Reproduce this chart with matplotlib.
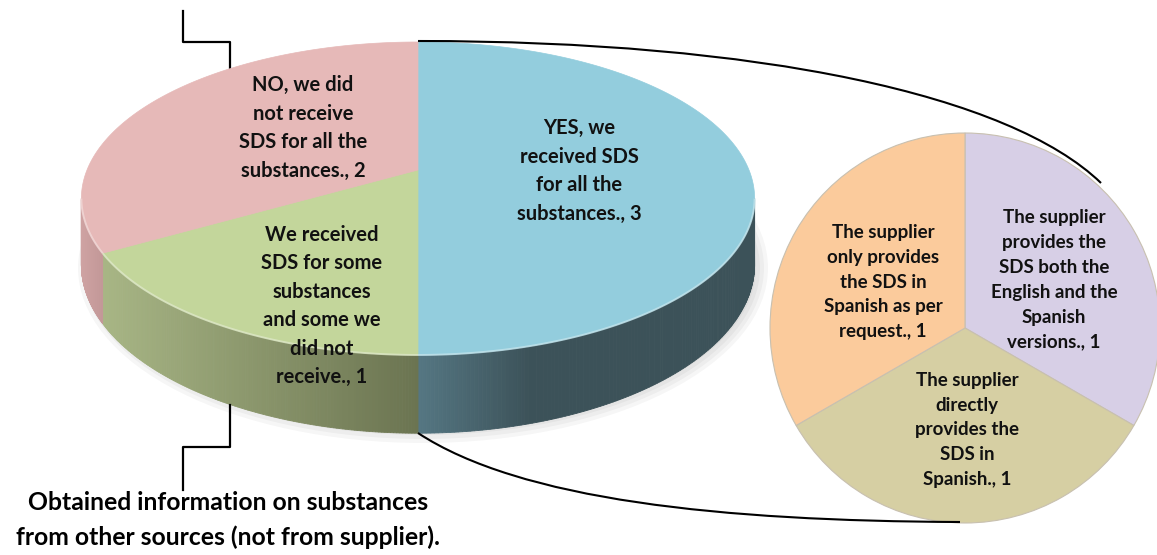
import numpy as np
import matplotlib
matplotlib.use("Agg")
import matplotlib.pyplot as plt
from matplotlib.patches import Polygon, Wedge, PathPatch, Ellipse
from matplotlib.path import Path
from matplotlib.colors import to_rgb

# ---------------- data (clockwise from 12 o'clock) ----------------
main_labels = ["YES, we\nreceived SDS\nfor all the\nsubstances., 3",
               "We received\nSDS for some\nsubstances\nand some we\ndid not\nreceive., 1",
               "NO, we did\nnot receive\nSDS for all the\nsubstances., 2"]
main_values = [3, 1, 2]
main_top_colors = ["#93CDDD", "#C3D69B", "#E6B9B8"]
main_side_left = ["#557783", "#A8B685", "#CFA3A3"]
main_side_right = ["#3C5259", "#6B7451", "#C39898"]

sub_labels = ["The supplier\nprovides the\nSDS both the\nEnglish and the\nSpanish\nversions., 1",
              "The supplier\ndirectly\nprovides the\nSDS in\nSpanish., 1",
              "The supplier\nonly provides\nthe SDS in\nSpanish as per\nrequest., 1"]
sub_values = [1, 1, 1]
sub_colors = ["#D7CFE6", "#D6CFA3", "#FBCB9C"]

bottom_note = "Obtained information on substances\nfrom other sources (not from supplier)."

FONT = ["Lato", "DejaVu Sans"]

W, H = 1157, 555
fig = plt.figure(figsize=(W / 100, H / 100), dpi=100)
ax = fig.add_axes([0, 0, 1, 1])
ax.set_xlim(0, W)
ax.set_ylim(H, 0)
ax.axis("off")

# ---------------- main 3-D pie (simple perspective) ----------------
cx, yc, Rx, A, D, k = 418, 170, 331, 151.3, 64, 0.182


def proj(theta_deg, bottom=False):
    t = np.radians(theta_deg)
    u, v = np.cos(t), np.sin(t)
    s = 1.0 / (1.0 + k * v)
    y = yc - A * v * s + (D * s if bottom else 0.0)
    return cx + Rx * u * s, y


total = sum(main_values)
bounds = []
a = 90.0
for v in main_values:
    span = 360.0 * v / total
    bounds.append((a - span, a))
    a -= span

# soft shadow under the pie
for j in range(4):
    ax.add_patch(Ellipse((cx + 5, 268), 690 - 8 * j, 350 - 8 * j,
                         facecolor="#000000", alpha=0.035, edgecolor="none", zorder=0))

sil_lo = 180 + np.degrees(np.arcsin(k))
sil_hi = 360 - np.degrees(np.arcsin(k))

# side walls (front, visible part)
for (t1, t2), cl, cr in zip(bounds, main_side_left, main_side_right):
    lo, hi = t1 % 360, t2 % 360
    if hi <= lo:
        hi += 360
    vis_lo, vis_hi = max(lo, sil_lo), min(hi, sil_hi)
    if vis_hi <= vis_lo:
        continue
    ts = np.linspace(vis_lo, vis_hi, 140)
    xs_all = [proj(t)[0] for t in ts]
    xmin, xmax = min(xs_all), max(xs_all)
    c_l, c_r = np.array(to_rgb(cl)), np.array(to_rgb(cr))
    fast = (cl == main_side_left[0])
    for i in range(len(ts) - 1):
        p1, p2 = proj(ts[i]), proj(ts[i + 1])
        q1, q2 = proj(ts[i], True), proj(ts[i + 1], True)
        xm = 0.5 * (p1[0] + p2[0])
        f = (xm - xmin) / max(xmax - xmin, 1)
        if fast:
            f = min(1.0, f * 3.0)
        col = c_l * (1 - f) + c_r * f
        ax.add_patch(Polygon([p1, p2, q2, q1], closed=True, facecolor=col,
                             edgecolor=col, lw=0.6, zorder=1))

# top faces
for (t1, t2), col in zip(bounds, main_top_colors):
    ts = np.linspace(t1, t2, 240)
    pts = [(cx, yc)] + [proj(t) for t in ts]
    ax.add_patch(Polygon(pts, closed=True, facecolor=col, edgecolor=col, lw=0.5, zorder=2))
    # light bevel along the front rim
    lo, hi = t1 % 360, t2 % 360
    if hi <= lo:
        hi += 360
    vlo, vhi = max(lo, sil_lo), min(hi, sil_hi)
    if vhi > vlo:
        rim = np.array([proj(t) for t in np.linspace(vlo, vhi, 120)])
        light = 0.55 * np.array(to_rgb(col)) + 0.45
        ax.plot(rim[:, 0], rim[:, 1], color=light, lw=1.4, alpha=0.8, zorder=2.5,
                solid_capstyle="butt")

main_pos = [(579, 171), (322, 306), (303, 128)]
for lab, (x, y) in zip(main_labels, main_pos):
    ax.text(x, y, lab, ha="center", va="center", fontsize=14.5, fontweight="bold",
            family=FONT, linespacing=1.53, color="#111111", zorder=5)

# ---------------- secondary pie ----------------
scx, scy, sr = 965, 328, 195
stot = sum(sub_values)
a = 90.0
sub_bounds = []
for v in sub_values:
    span = 360.0 * v / stot
    sub_bounds.append((a - span, a))
    a -= span
for (t1, t2), col in zip(sub_bounds, sub_colors):
    # y axis inverted: visual angle t -> data angle -t
    ax.add_patch(Wedge((scx, scy), sr, -t2, -t1, facecolor=col,
                       edgecolor="#C8C0B0", lw=0.8, zorder=2))

sub_pos = [(1054, 280), (967, 430), (883, 282)]
for lab, (x, y) in zip(sub_labels, sub_pos):
    ax.text(x, y, lab, ha="center", va="center", fontsize=13.5, fontweight="bold",
            family=FONT, linespacing=1.56, color="#111111", zorder=5)

# ---------------- connector curves ----------------
top_path = Path([(418, 41), (760, 41), (1010, 95), (1101, 183)],
                [Path.MOVETO, Path.CURVE4, Path.CURVE4, Path.CURVE4])
bot_path = Path([(418, 433), (520, 500), (720, 521), (960, 522)],
                [Path.MOVETO, Path.CURVE4, Path.CURVE4, Path.CURVE4])
for p in (top_path, bot_path):
    ax.add_patch(PathPatch(p, facecolor="none", edgecolor="black", lw=1.5, zorder=3))

# ---------------- bracket callouts ----------------
ax.plot([183, 183, 230, 230], [11, 42, 42, 72], color="black", lw=1.6, zorder=1.5)
ax.plot([230, 230, 183, 183], [405, 447, 447, 490], color="black", lw=1.6, zorder=1.5)

ax.text(228, 520, bottom_note, ha="center", va="center", fontsize=17.8, fontweight="bold",
        family=FONT, linespacing=1.62, color="black", zorder=5)

fig.savefig("out.png", dpi=100)
